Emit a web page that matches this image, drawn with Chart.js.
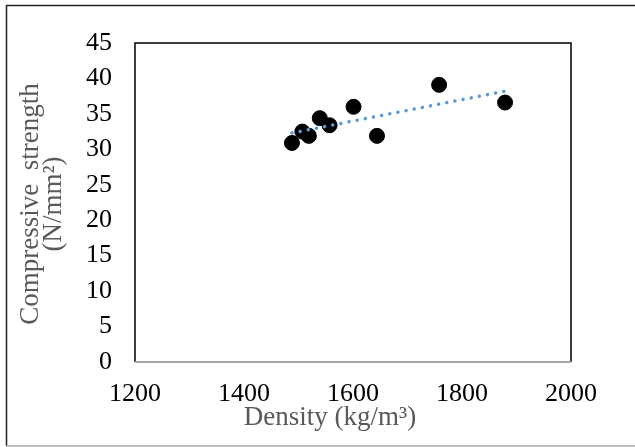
<!DOCTYPE html>
<html>
<head>
<meta charset="utf-8">
<script src="https://cdn.jsdelivr.net/npm/chart.js@4.4.1/dist/chart.umd.min.js"></script>
<style>
  html, body { margin: 0; padding: 0; background: #fff; }
  #wrap { width: 635px; height: 447px; position: relative; }
</style>
</head>
<body>
<div id="wrap"><canvas id="chart" width="635" height="447"></canvas></div>
<script>
const densities = [1488, 1507, 1519, 1539, 1557, 1601, 1644, 1758, 1879];
const strengths = [30.9, 32.5, 31.9, 34.4, 33.4, 36.0, 31.9, 39.1, 36.6];
const trendX = [1488, 1879];
const trendY = [32.3, 38.2];
const xTicks = [1200, 1400, 1600, 1800, 2000];
const yTicks = [0, 5, 10, 15, 20, 25, 30, 35, 40, 45];
const xTitle = 'Density (kg/m\u00B3)';
const yTitle = ['Compressive  strength', '(N/mm\u00B2)'];

const serif = '"Liberation Serif", "Times New Roman", serif';

const frame = {
    id: 'frame',
    afterDraw(chart) {
        const c = chart.ctx, a = chart.chartArea;
        c.save();
        // outer border
        c.strokeStyle = '#222';
        c.lineWidth = 1.5;
        c.beginPath();
        c.moveTo(6.5, 446);
        c.lineTo(6.5, 5.5);
        c.lineTo(635, 5.5);
        c.stroke();
        c.strokeStyle = '#aaa';
        c.beginPath();
        c.moveTo(6, 446);
        c.lineTo(635, 446);
        c.stroke();
        // plot frame
        c.strokeStyle = '#000';
        c.lineWidth = 1.5;
        c.beginPath();
        c.moveTo(a.left, a.bottom);
        c.lineTo(a.left, a.top);
        c.lineTo(a.right, a.top);
        c.lineTo(a.right, a.bottom);
        c.stroke();
        c.strokeStyle = '#a6a6a6';
        c.lineWidth = 2;
        c.beginPath();
        c.moveTo(a.left, a.bottom);
        c.lineTo(a.right, a.bottom);
        c.stroke();
        // axis titles
        c.fillStyle = '#595959';
        c.font = '27px ' + serif;
        c.textAlign = 'center';
        c.textBaseline = 'middle';
        c.fillText(xTitle, 330, 418);
        c.translate(31, 204);
        c.rotate(-Math.PI / 2);
        c.fillText(yTitle[0], 0, 0);
        c.fillText(yTitle[1], 0, 23);
        c.restore();
    }
};

new Chart(document.getElementById('chart'), {
    type: 'scatter',
    data: {
        datasets: [
            {
                label: 'Strength',
                data: densities.map((d, i) => ({ x: d, y: strengths[i] })),
                backgroundColor: '#000',
                borderColor: '#000',
                pointRadius: 7.5,
                pointHoverRadius: 7.5,
                order: 2
            },
            {
                label: 'Trend',
                type: 'line',
                data: trendX.map((d, i) => ({ x: d, y: trendY[i] })),
                borderColor: '#5B9BD5',
                borderWidth: 3.5,
                borderDash: [0.1, 8.2],
                borderCapStyle: 'round',
                pointRadius: 0,
                fill: false,
                order: 1
            }
        ]
    },
    options: {
        responsive: false,
        animation: false,
        layout: { padding: { left: 0, top: 43, right: 64, bottom: 0 } },
        plugins: { legend: { display: false }, tooltip: { enabled: false } },
        scales: {
            x: {
                type: 'linear',
                min: 1200, max: 2000,
                afterBuildTicks: s => { s.ticks = xTicks.map(v => ({ value: v })); },
                afterFit: s => { s.height = 85; },
                grid: { display: false, drawTicks: false },
                border: { display: false },
                ticks: { color: '#000', padding: 17, maxRotation: 0, callback: v => String(v), font: { family: serif, size: 26 } }
            },
            y: {
                min: 0, max: 45,
                afterBuildTicks: s => { s.ticks = yTicks.map(v => ({ value: v })); },
                afterFit: s => { s.width = 135; },
                grid: { display: false, drawTicks: false },
                border: { display: false },
                ticks: { color: '#000', padding: 23, callback: v => String(v), font: { family: serif, size: 26 } }
            }
        }
    },
    plugins: [frame]
});
</script>
</body>
</html>
